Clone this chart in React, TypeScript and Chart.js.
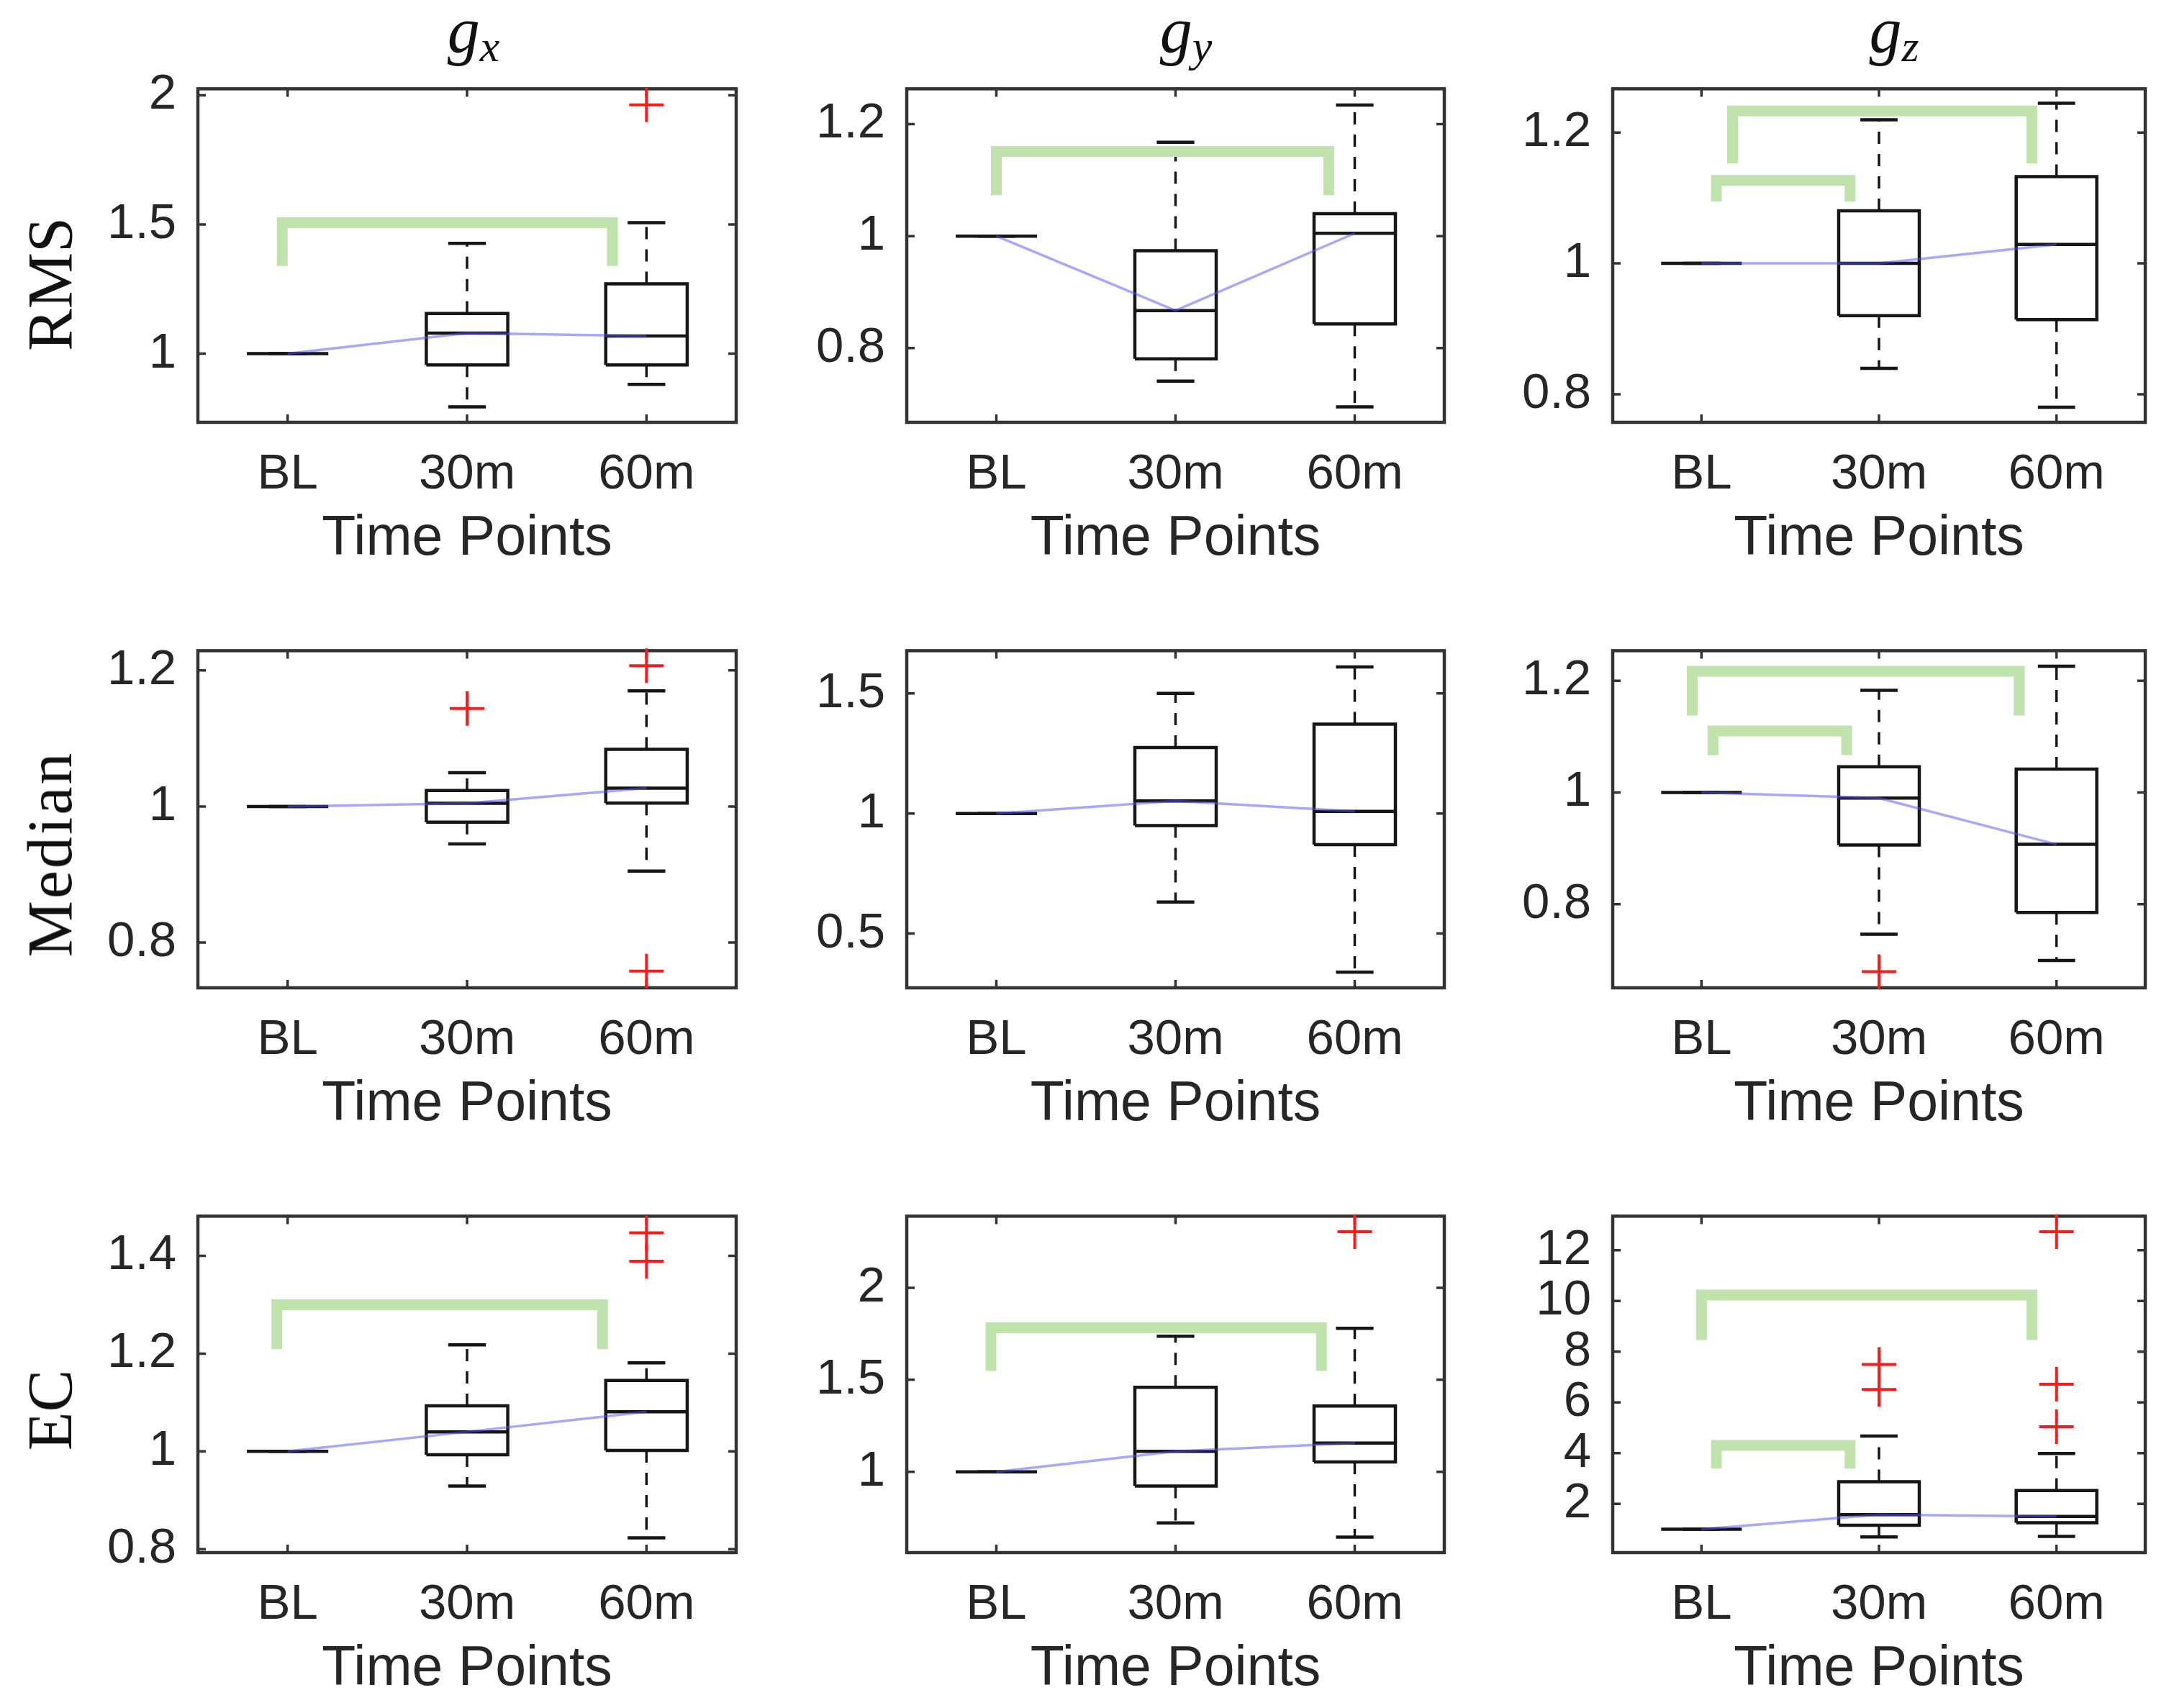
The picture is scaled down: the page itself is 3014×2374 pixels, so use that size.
import React, { useEffect, useRef } from 'react';
import { Chart, registerables } from 'chart.js';

Chart.register(...registerables);

// ---------------- DATA ----------------
const timePoints = ['BL', '30m', '60m'];
const rowNames = ['RMS', 'Median', 'EC'];
const colSubs = ['x', 'y', 'z'];

// Each row per time point: [lower whisker, Q1, median, Q3, upper whisker]
const rmsGx = [[1, 1, 1, 1, 1], [0.794, 0.956, 1.079, 1.155, 1.427], [0.881, 0.956, 1.068, 1.27, 1.507]];
const rmsGy = [[1, 1, 1, 1, 1], [0.741, 0.781, 0.867, 0.974, 1.1675], [0.695, 0.843, 1.005, 1.04, 1.234]];
const rmsGz = [[1, 1, 1, 1, 1], [0.8396, 0.92, 1.0, 1.0805, 1.2196], [0.78, 0.914, 1.029, 1.1327, 1.245]];
const medGx = [[1, 1, 1, 1, 1], [0.945, 0.977, 1.0047, 1.0234, 1.0497], [0.905, 1.005, 1.027, 1.084, 1.17]];
const medGy = [[1, 1, 1, 1, 1], [0.631, 0.95, 1.052, 1.275, 1.5], [0.339, 0.87, 1.009, 1.372, 1.61]];
const medGz = [[1, 1, 1, 1, 1], [0.746, 0.906, 0.99, 1.046, 1.183], [0.699, 0.785, 0.907, 1.042, 1.226]];
const ecGx = [[1, 1, 1, 1, 1], [0.929, 0.993, 1.04, 1.093, 1.218], [0.823, 1.002, 1.081, 1.145, 1.181]];
const ecGy = [[1, 1, 1, 1, 1], [0.722, 0.923, 1.111, 1.459, 1.737], [0.645, 1.054, 1.156, 1.358, 1.78]];
const ecGz = [[1, 1, 1, 1, 1], [0.69, 1.155, 1.57, 2.87, 4.67], [0.71, 1.25, 1.5, 2.52, 3.98]];

// Outliers: [time point position (1..3), value]
const rmsGxOut = [[3, 1.963]];
const rmsGyOut: number[][] = [];
const rmsGzOut: number[][] = [];
const medGxOut = [[2, 1.144], [3, 1.207], [3, 0.758]];
const medGyOut: number[][] = [];
const medGzOut = [[2, 0.679]];
const ecGxOut = [[3, 1.447], [3, 1.389]];
const ecGyOut = [[3, 2.305]];
const ecGzOut = [[2, 7.49], [2, 6.51], [3, 12.73], [3, 6.71], [3, 5.04]];

// Significance brackets: [from x, to x, bar level, leg end level]
const rmsGxBr = [[0.97, 2.81, 1.507, 1.339]];
const rmsGyBr = [[1.0, 2.855, 1.151, 1.073]];
const rmsGzBr = [[1.175, 2.861, 1.233, 1.153], [1.084, 1.837, 1.127, 1.0945]];
const medGxBr: number[][] = [];
const medGyBr: number[][] = [];
const medGzBr = [[0.948, 2.79, 1.217, 1.138], [1.065, 1.818, 1.11, 1.067]];
const ecGxBr = [[0.94, 2.755, 1.3, 1.209]];
const ecGyBr = [[0.97, 2.814, 1.783, 1.548]];
const ecGzBr = [[1.0, 2.861, 10.23, 8.46], [1.084, 1.837, 4.3, 3.39]];

// Y axis ranges and tick values
const rmsGxRange = [0.734, 2.025];
const rmsGyRange = [0.6675, 1.263];
const rmsGzRange = [0.757, 1.267];
const medGxRange = [0.7334, 1.229];
const medGyRange = [0.274, 1.678];
const medGzRange = [0.65, 1.254];
const ecGxRange = [0.793, 1.481];
const ecGyRange = [0.561, 2.389];
const ecGzRange = [0.075, 13.34];

const rmsGxTicks = [1, 1.5, 2];
const rmsGyTicks = [0.8, 1, 1.2];
const rmsGzTicks = [0.8, 1, 1.2];
const medGxTicks = [0.8, 1, 1.2];
const medGyTicks = [0.5, 1, 1.5];
const medGzTicks = [0.8, 1, 1.2];
const ecGxTicks = [0.8, 1, 1.2, 1.4];
const ecGyTicks = [1, 1.5, 2];
const ecGzTicks = [2, 4, 6, 8, 10, 12];

// ---------------- LAYOUT / STYLE ----------------
const W = 3014;
const H = 2374;
const colLeft = [275, 1260, 2241];
const colRight = [1023, 2007, 2981];
const rowTop = [120, 901, 1687];
const rowBottom = [587, 1373, 2158];
const colTitleCenter = [658, 1648, 2632];
const rowLabelCenter = [395, 1187, 1960];
const YW = 220;
const PT = 60;
const PR = 30;
const XH = 214;
const BW = 0.227; // box half width
const CW = 0.105; // cap half width
const SANS = "'Liberation Sans', Arial, Helvetica, sans-serif";
const SERIF = "'Liberation Serif', 'Times New Roman', Times, serif";
const TEXT = '#262626';
const INK = '#161616';

const panels = [
  [rmsGx, rmsGxOut, rmsGxBr, rmsGxRange, rmsGxTicks],
  [rmsGy, rmsGyOut, rmsGyBr, rmsGyRange, rmsGyTicks],
  [rmsGz, rmsGzOut, rmsGzBr, rmsGzRange, rmsGzTicks],
  [medGx, medGxOut, medGxBr, medGxRange, medGxTicks],
  [medGy, medGyOut, medGyBr, medGyRange, medGyTicks],
  [medGz, medGzOut, medGzBr, medGzRange, medGzTicks],
  [ecGx, ecGxOut, ecGxBr, ecGxRange, ecGxTicks],
  [ecGy, ecGyOut, ecGyBr, ecGyRange, ecGyTicks],
  [ecGz, ecGzOut, ecGzBr, ecGzRange, ecGzTicks],
];

const framePlugin = {
  id: 'matlabFrame',
  beforeDatasetsDraw(chart: any) {
    const { ctx, chartArea: a, scales } = chart;
    const xs = scales.x;
    const ys = scales.y;
    ctx.save();
    ctx.strokeStyle = '#333333';
    ctx.lineWidth = 4.5;
    ctx.strokeRect(a.left, a.top, a.right - a.left, a.bottom - a.top);
    ctx.lineWidth = 3.5;
    const tl = 11;
    ctx.beginPath();
    xs.ticks.forEach((t: any) => {
      const px = xs.getPixelForValue(t.value);
      ctx.moveTo(px, a.bottom);
      ctx.lineTo(px, a.bottom - tl);
      ctx.moveTo(px, a.top);
      ctx.lineTo(px, a.top + tl);
    });
    ys.ticks.forEach((t: any) => {
      const py = ys.getPixelForValue(t.value);
      ctx.moveTo(a.left, py);
      ctx.lineTo(a.left + tl, py);
      ctx.moveTo(a.right, py);
      ctx.lineTo(a.right - tl, py);
    });
    ctx.stroke();
    ctx.restore();
  },
};

function BoxPanel(props: any) {
  const { stats, outliers, brackets, range, ticks, left, top, right, bottom } = props;
  const ref = useRef<HTMLCanvasElement | null>(null);
  const cw = YW + (right - left) + PR;
  const ch = PT + (bottom - top) + XH;

  useEffect(() => {
    if (!ref.current) return;
    const boxes: any[] = [];
    const whiskers: any[] = [];
    const caps: any[] = [];
    const medLine: any[] = [];
    stats.forEach((s: number[], i: number) => {
      const x = i + 1;
      const [lo, q1, md, q3, hi] = s;
      boxes.push(
        { x: x - BW, y: q1 }, { x: x + BW, y: q1 }, { x: x + BW, y: q3 },
        { x: x - BW, y: q3 }, { x: x - BW, y: q1 }, { x, y: null },
        { x: x - BW, y: md }, { x: x + BW, y: md }, { x, y: null },
      );
      if (hi > q3) whiskers.push({ x, y: q3 }, { x, y: hi }, { x, y: null });
      if (lo < q1) whiskers.push({ x, y: q1 }, { x, y: lo }, { x, y: null });
      caps.push(
        { x: x - CW, y: hi }, { x: x + CW, y: hi }, { x, y: null },
        { x: x - CW, y: lo }, { x: x + CW, y: lo }, { x, y: null },
      );
      medLine.push({ x, y: md });
    });
    const outPts = outliers.map((o: number[]) => ({ x: o[0], y: o[1] }));
    const brPts: any[] = [];
    brackets.forEach((b: number[]) => {
      const [x1, x2, yt, yb] = b;
      brPts.push({ x: x1, y: yb }, { x: x1, y: yt }, { x: x2, y: yt }, { x: x2, y: yb }, { x: x1, y: null });
    });

    const lineBase = { type: 'line', pointRadius: 0, spanGaps: false, tension: 0, fill: false, borderCapStyle: 'butt', borderJoinStyle: 'miter' };

    const chart = new Chart(ref.current, {
      type: 'scatter',
      data: {
        datasets: [
          {
            data: outPts, type: 'scatter', showLine: false, pointStyle: 'cross', pointRadius: 24,
            pointBorderWidth: 4, borderColor: '#ff1a1a', backgroundColor: '#ff1a1a', clip: false,
          },
          { ...lineBase, data: medLine, borderColor: 'rgba(80, 80, 255, 0.5)', borderWidth: 3.5 },
          { ...lineBase, data: brPts, borderColor: 'rgb(192, 226, 172)', borderWidth: 15 },
          { ...lineBase, data: boxes, borderColor: INK, borderWidth: 4.5 },
          { ...lineBase, data: caps, borderColor: INK, borderWidth: 4.5 },
          { ...lineBase, data: whiskers, borderColor: INK, borderWidth: 3.5, borderDash: [17, 14] },
        ] as any,
      },
      options: {
        animation: false,
        responsive: false,
        devicePixelRatio: 1,
        events: [],
        layout: { padding: { top: PT, right: PR, left: 0, bottom: 0 } },
        plugins: { legend: { display: false }, tooltip: { enabled: false }, title: { display: false } },
        scales: {
          x: {
            type: 'linear',
            min: 0.5,
            max: 3.5,
            grid: { display: false },
            border: { display: false },
            afterBuildTicks: (s: any) => { s.ticks = timePoints.map((_, i) => ({ value: i + 1 })); },
            afterFit: (s: any) => { s.height = XH; },
            ticks: {
              autoSkip: false,
              maxRotation: 0,
              minRotation: 0,
              padding: 24,
              color: TEXT,
              font: { family: SANS, size: 69 },
              callback: (v: any) => timePoints[Math.round(Number(v)) - 1] ?? '',
            },
            title: {
              display: true,
              text: 'Time Points',
              color: TEXT,
              font: { family: SANS, size: 77 },
              padding: { top: 0, bottom: 5 },
            },
          },
          y: {
            type: 'linear',
            min: range[0],
            max: range[1],
            grid: { display: false },
            border: { display: false },
            afterBuildTicks: (s: any) => { s.ticks = ticks.map((v: number) => ({ value: v })); },
            afterFit: (s: any) => { s.width = YW; },
            ticks: {
              padding: 22,
              color: TEXT,
              font: { family: SANS, size: 69 },
              callback: (v: any) => String(v),
            },
          },
        },
      } as any,
      plugins: [framePlugin],
    });
    return () => chart.destroy();
  }, []);

  return (
    <canvas
      ref={ref}
      width={cw}
      height={ch}
      style={{ position: 'absolute', left: left - YW, top: top - PT, width: cw, height: ch }}
    />
  );
}

export default function App() {
  return (
    <div style={{ position: 'absolute', left: 0, top: 0, width: W, height: H, background: '#ffffff', overflow: 'hidden' }}>
      {panels.map((p, k) => {
        const r = Math.floor(k / 3);
        const c = k % 3;
        return (
          <BoxPanel
            key={k}
            stats={p[0]}
            outliers={p[1]}
            brackets={p[2]}
            range={p[3]}
            ticks={p[4]}
            left={colLeft[c]}
            right={colRight[c]}
            top={rowTop[r]}
            bottom={rowBottom[r]}
          />
        );
      })}
      {colSubs.map((s, c) => (
        <div
          key={'t' + c}
          style={{
            position: 'absolute', left: colTitleCenter[c], top: -2, transform: 'translateX(-50%)',
            fontFamily: SERIF, fontStyle: 'italic', fontSize: 90, lineHeight: '90px',
            whiteSpace: 'nowrap', color: '#111',
          }}
        >
          g<span style={{ fontSize: 62, position: 'relative', top: 12 }}>{s}</span>
        </div>
      ))}
      {rowNames.map((n, r) => (
        <div
          key={'r' + r}
          style={{
            position: 'absolute', left: 70, top: rowLabelCenter[r],
            transform: 'translate(-50%, -50%) rotate(-90deg)',
            fontFamily: SERIF, fontSize: 88, lineHeight: 1, whiteSpace: 'nowrap', color: '#111',
            letterSpacing: n === 'Median' ? 3 : 0,
          }}
        >
          {n}
        </div>
      ))}
    </div>
  );
}
